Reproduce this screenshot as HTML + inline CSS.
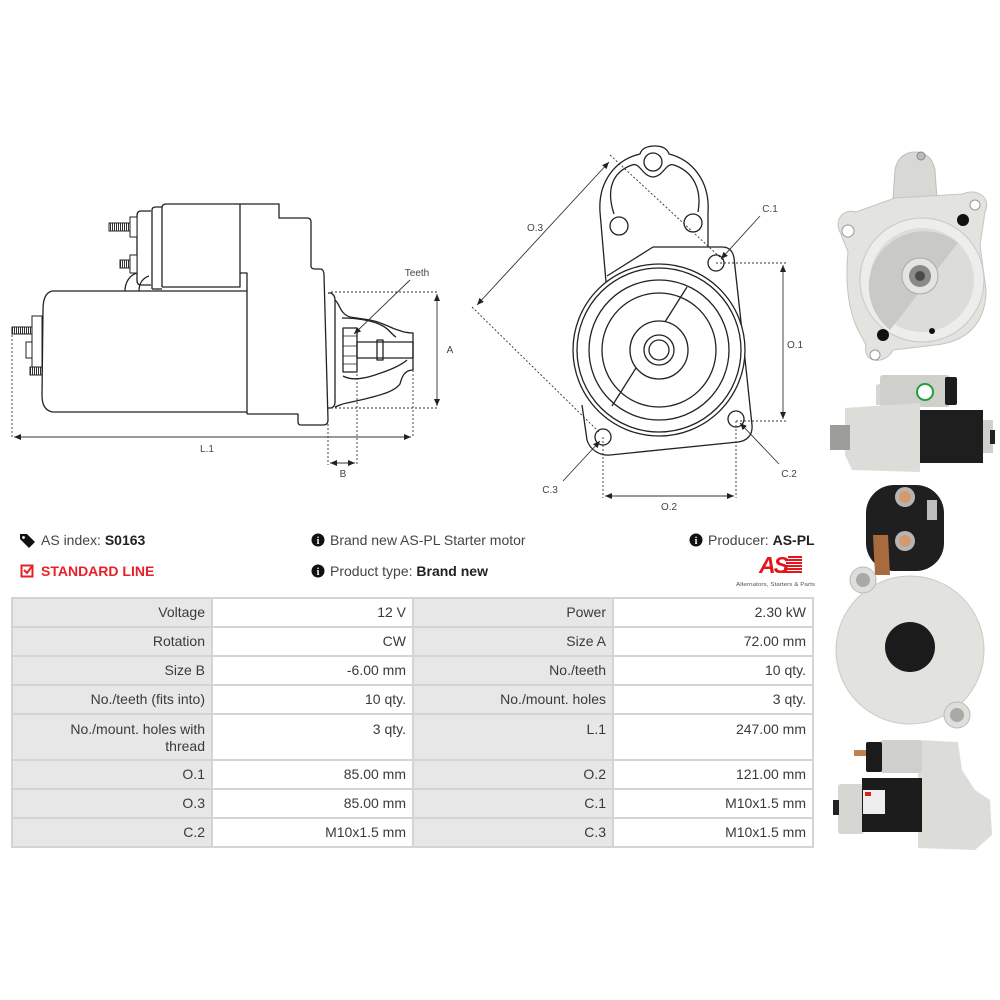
<!DOCTYPE html>
<html><head><meta charset="utf-8">
<style>
html,body{margin:0;padding:0;background:#fff;}
body{width:1000px;height:1000px;position:relative;overflow:hidden;font-family:"Liberation Sans",sans-serif;}
svg{position:absolute;left:0;top:0;}
.t{position:absolute;font-size:14px;color:#444;white-space:nowrap;line-height:16px;}
.t b{color:#222;}
.tb{position:absolute;left:11px;top:597px;width:803px;height:251px;background:#d4d4d4;}
.c{position:absolute;box-sizing:border-box;font-size:14px;color:#3a3a3a;text-align:right;padding-right:6px;line-height:27px;white-space:nowrap;}
.g{background:#e7e7e7;}
.w{background:#fff;}
.tall{line-height:17px;padding-top:6px;}
</style></head><body>
<svg width="1000" height="1000" viewBox="0 0 1000 1000">
<defs>
<marker id="ar" markerUnits="userSpaceOnUse" markerWidth="7" markerHeight="6" refX="7" refY="3" orient="auto-start-reverse"><path d="M0,0 L7,3 L0,6 Z" fill="#222"/></marker>
<pattern id="th" width="2" height="4" patternUnits="userSpaceOnUse"><rect width="2" height="4" fill="#fff"/><rect width="1" height="4" fill="#333"/></pattern>
</defs>

<!-- LEFT SIDE DRAWING -->
<g fill="none" stroke="#222" stroke-width="1.3" stroke-linejoin="round">
  <path d="M166,204 L279,204 L279,218 L307,218 Q311,218 311,222 L311,266 Q311,269 315,269 L321,269 Q324,270 324,275 L328,420 Q328,425 323,425 L301,425 Q298,425 298,422 L298,414 L247,414"/>
  <path d="M162,287 L162,208 Q162,204 166,204"/>
  <path d="M162,287 L240,287 L240,204"/>
  <path d="M240,273 L247,273 L247,414"/>
  <path d="M152,289 L152,210 Q152,207 156,207 L162,207"/>
  <path d="M152,289 L162,289"/>
  <path d="M151,285 L141,285 Q137,285 137,280 L137,216 Q137,211 141,211 L151,211"/>
  <path d="M125,291 C125,282 130,275 137,273"/>
  <path d="M139,291 C139,283 143,278 149,276"/>
  <path d="M52,291 L247,291"/>
  <path d="M52,412 L247,412"/>
  <path d="M52,291 C45,293 43,300 43,310 L42,395 C42,405 45,410 52,412"/>
  <path d="M328,293 L331,293 Q335,295 335,300 L335,402 Q335,407 331,408 L328,408"/>
  <path d="M335,300 C340,304 340,314 350,317 L370,320 C385,323 390,328 398,330 L404,332 C406,332 407,333 413,333 L413,370 C405,370 402,376 400,384 C394,392 380,395 365,399 L347,403 C341,404 338,406 335,407"/>
  <path d="M342,318 C355,318 372,320 383,326 C390,330 392,335 396,337"/>
  <path d="M343,376 C350,380 360,380 375,375 C390,370 400,366 407,360"/>
  <rect x="343" y="328" width="14" height="44"/>
  <path d="M343,336 L357,336 M343,346 L357,346 M343,356 L357,356 M343,364 L357,364" stroke-width="0.8"/>
  <rect x="357" y="342" width="56" height="16"/>
  <rect x="377" y="340" width="6" height="20"/>
</g>
<g stroke="#222" stroke-width="1">
  <rect x="109" y="223" width="21" height="8" fill="url(#th)"/>
  <rect x="130" y="217" width="7" height="20" fill="#fff"/>
  <rect x="120" y="260" width="10" height="8" fill="url(#th)"/>
  <rect x="130" y="255" width="7" height="18" fill="#fff"/>
  <rect x="32" y="316" width="10" height="54" fill="#fff"/>
  <rect x="12" y="327" width="20" height="7" fill="url(#th)"/>
  <rect x="26" y="342" width="6" height="16" fill="#fff"/>
  <rect x="30" y="367" width="12" height="8" fill="url(#th)"/>
</g>
<g fill="none" stroke="#333" stroke-width="0.9">
  <path d="M331,292 L439,292 M331,408 L439,408 M12,335 L12,438 M413,370 L413,438 M328,408 L328,465 M357,370 L357,465" stroke-dasharray="2,2"/>
  <path d="M437,294 L437,406" marker-start="url(#ar)" marker-end="url(#ar)"/>
  <path d="M14,437 L411,437" marker-start="url(#ar)" marker-end="url(#ar)"/>
  <path d="M330,463 L355,463" marker-start="url(#ar)" marker-end="url(#ar)"/>
  <path d="M410,280 L354,334" marker-end="url(#ar)"/>
</g>
<g font-family="Liberation Sans, sans-serif" font-size="10" fill="#444" text-anchor="middle">
  <text x="417" y="276">Teeth</text>
  <text x="450" y="353">A</text>
  <text x="207" y="452">L.1</text>
  <text x="343" y="477">B</text>
</g>

<!-- FRONT VIEW DRAWING -->
<g fill="none" stroke="#222" stroke-width="1.3" stroke-linejoin="round">
  <path d="M606,282 L600,212 C598,182 615,160 640,154 C642,147 649,146 655,146 C662,146 667,148 669,154 C693,160 710,182 708,212 L708,247"/>
  <path d="M614,214 C606,190 612,172 632,165 C640,162 642,176 653,177 C664,176 666,162 674,165 C694,172 702,190 698,212"/>
  <circle cx="653" cy="162" r="9"/>
  <circle cx="619" cy="226" r="9"/>
  <circle cx="693" cy="223" r="9"/>
  <path d="M607,276 L653,247 L722,247 C730,247 733,252 734,258 L743,340 L752,425 C753,436 746,441 738,442 L610,455 C600,456 590,450 587,440 L582,405"/>
  <circle cx="659" cy="350" r="86" fill="#fff"/>
  <circle cx="659" cy="350" r="82"/>
  <circle cx="659" cy="350" r="70"/>
  <circle cx="659" cy="350" r="57"/>
  <path d="M687,287 L612,406"/>
  <circle cx="659" cy="350" r="29" fill="#fff"/>
  <circle cx="659" cy="350" r="15"/>
  <circle cx="659" cy="350" r="10"/>
  <circle cx="716" cy="263" r="8" fill="#fff"/>
  <circle cx="736" cy="419" r="8" fill="#fff"/>
  <circle cx="603" cy="437" r="8" fill="#fff"/>
</g>
<g fill="none" stroke="#333" stroke-width="0.9">
  <path d="M716,263 L786,263 M736,421 L786,421 M603,437 L603,498 M736,421 L736,498 M610,155 L723,260 M472,307 L600,433" stroke-dasharray="2,2"/>
  <path d="M783,265 L783,419" marker-start="url(#ar)" marker-end="url(#ar)"/>
  <path d="M605,496 L734,496" marker-start="url(#ar)" marker-end="url(#ar)"/>
  <path d="M477,305 L609,162" marker-start="url(#ar)" marker-end="url(#ar)"/>
  <path d="M760,216 L721,259" marker-end="url(#ar)"/>
  <path d="M779,464 L740,423" marker-end="url(#ar)"/>
  <path d="M563,481 L600,441" marker-end="url(#ar)"/>
</g>
<g font-family="Liberation Sans, sans-serif" font-size="10" fill="#444" text-anchor="middle">
  <text x="535" y="231">O.3</text>
  <text x="770" y="212">C.1</text>
  <text x="795" y="348">O.1</text>
  <text x="789" y="477">C.2</text>
  <text x="550" y="493">C.3</text>
  <text x="669" y="510">O.2</text>
</g>

<!-- PHOTO 1: front -->
<g>
  <path d="M893,200 L895,170 C897,158 905,152 915,152 C925,152 933,158 935,170 L937,200 Z" fill="#d8d8d5" stroke="#bdbdb9"/>
  <circle cx="921" cy="156" r="4" fill="#bbb" stroke="#888"/>
  <path d="M840,232 C834,220 843,208 856,212 L895,198 L963,194 C975,188 992,196 985,212 L980,245 L986,290 C986,325 965,342 935,345 L893,350 C886,365 862,364 866,345 L858,330 C848,310 845,280 848,252 Z" fill="#e3e3e0" stroke="#c4c4c0"/>
  <circle cx="922" cy="280" r="62" fill="#ededeb" stroke="#c8c8c4"/>
  <circle cx="922" cy="280" r="52" fill="#dcdcd9"/>
  <path d="M958,243 L890,330 A52,52 0 0 1 958,243 Z" fill="#c9c9c6"/>
  <circle cx="920" cy="276" r="18" fill="#e4e4e2" stroke="#aaa"/>
  <circle cx="920" cy="276" r="11" fill="#8a8a88"/>
  <circle cx="920" cy="276" r="5" fill="#4a4a4a"/>
  <circle cx="848" cy="231" r="6" fill="#fff" stroke="#999"/>
  <circle cx="975" cy="205" r="5" fill="#fff" stroke="#999"/>
  <circle cx="875" cy="355" r="5" fill="#fff" stroke="#999"/>
  <circle cx="963" cy="220" r="6" fill="#111"/>
  <circle cx="883" cy="335" r="6" fill="#111"/>
  <circle cx="932" cy="331" r="3" fill="#111"/>
</g>
<!-- PHOTO 2: side -->
<g>
  <path d="M876,385 L900,378 L905,405 L876,405 Z" fill="#d6d6d3"/>
  <rect x="880" y="375" width="70" height="32" rx="3" fill="#cfcfcc"/>
  <rect x="945" y="377" width="12" height="28" rx="2" fill="#1c1c1c"/>
  <circle cx="925" cy="392" r="8" fill="#fff" stroke="#2a9a3a" stroke-width="2"/>
  <path d="M845,408 L920,403 L920,472 L852,470 L845,455 Z" fill="#dcdcd9"/>
  <rect x="830" y="425" width="20" height="25" fill="#9d9d9a"/>
  <rect x="920" y="410" width="63" height="53" fill="#1e1e1e"/>
  <rect x="983" y="420" width="10" height="33" fill="#cfcfcc"/>
  <rect x="990" y="430" width="5" height="14" fill="#222"/>
</g>
<!-- PHOTO 3: rear -->
<g>
  <rect x="866" y="485" width="78" height="86" rx="28" fill="#1f1f1f"/>
  <path d="M873,535 L888,535 L890,575 L875,575 Z" fill="#a86b3e"/>
  <circle cx="905" cy="497" r="10" fill="#b5b5b5"/>
  <circle cx="905" cy="497" r="6" fill="#d29a6e"/>
  <circle cx="905" cy="541" r="10" fill="#b5b5b5"/>
  <circle cx="905" cy="541" r="6" fill="#d29a6e"/>
  <rect x="927" y="500" width="10" height="20" fill="#bdbdbd"/>
  <circle cx="910" cy="650" r="74" fill="#e2e2df" stroke="#c9c9c5"/>
  <circle cx="863" cy="580" r="13" fill="#dededb" stroke="#bbb"/>
  <circle cx="863" cy="580" r="7" fill="#a9a9a6"/>
  <circle cx="957" cy="715" r="13" fill="#dededb" stroke="#bbb"/>
  <circle cx="957" cy="715" r="7" fill="#a9a9a6"/>
  <circle cx="910" cy="647" r="25" fill="#1b1b1b"/>
</g>
<!-- PHOTO 4: side -->
<g>
  <path d="M918,740 L958,742 L962,770 L975,790 L990,800 L992,835 L975,850 L918,848 Z" fill="#dcdcd9"/>
  <rect x="880" y="740" width="42" height="33" rx="3" fill="#cfcfcc"/>
  <rect x="866" y="742" width="16" height="30" rx="2" fill="#1b1b1b"/>
  <rect x="854" y="750" width="12" height="6" fill="#c08050"/>
  <rect x="838" y="784" width="26" height="50" rx="3" fill="#d6d6d3"/>
  <rect x="833" y="800" width="6" height="15" fill="#222"/>
  <rect x="862" y="778" width="60" height="54" fill="#1c1c1c"/>
  <rect x="863" y="790" width="22" height="24" fill="#eee"/>
  <rect x="865" y="792" width="6" height="4" fill="#d22"/>
</g>
</svg>

<!-- INFO ROW -->
<svg width="1000" height="1000" style="pointer-events:none">
  <path d="M20,534 L27,534 L35,542 L29,548 L20,539 Z" fill="#111"/>
  <circle cx="23.5" cy="537.5" r="1.4" fill="#fff"/>
  <rect x="21.5" y="565.5" width="11" height="11" fill="none" stroke="#e8202a" stroke-width="2"/>
  <path d="M24,570 L27,573 L33,565" fill="none" stroke="#e8202a" stroke-width="2"/>
  <circle cx="318" cy="540" r="6.5" fill="#111"/>
  <circle cx="318" cy="571" r="6.5" fill="#111"/>
  <circle cx="696" cy="540" r="6.5" fill="#111"/>
  <g fill="#fff" font-family="Liberation Serif, serif" font-weight="bold" font-size="10" text-anchor="middle">
    <text x="318" y="544">i</text><text x="318" y="575">i</text><text x="696" y="544">i</text>
  </g>
  <g fill="#e3161b">
    <rect x="788" y="556" width="14" height="2"/><rect x="787" y="559" width="15" height="2"/>
    <rect x="786" y="562" width="16" height="2"/><rect x="785" y="565" width="17" height="2"/>
    <rect x="784" y="568" width="18" height="2"/><rect x="783" y="571" width="19" height="2"/>
  </g>
  <text x="759" y="573" font-family="Liberation Sans, sans-serif" font-weight="bold" font-style="italic" font-size="23" fill="#e3161b" letter-spacing="-2">AS</text>
  <text x="736" y="586" font-family="Liberation Sans, sans-serif" font-size="5.5" fill="#555" textLength="79" lengthAdjust="spacingAndGlyphs">Alternators, Starters &amp; Parts</text>
</svg>
<div class="t" style="left:41px;top:532px;">AS index: <b>S0163</b></div>
<div class="t" style="left:41px;top:563px;color:#e8202a;font-weight:bold;">STANDARD LINE</div>
<div class="t" style="left:330px;top:532px;">Brand new AS-PL Starter motor</div>
<div class="t" style="left:330px;top:563px;">Product type: <b>Brand new</b></div>
<div class="t" style="left:708px;top:532px;">Producer: <b>AS-PL</b></div>

<!-- TABLE -->
<div class="tb"></div>
<div class="c g" style="left:13px;top:599px;width:198px;height:27px;">Voltage</div>
<div class="c w" style="left:213px;top:599px;width:199px;height:27px;">12 V</div>
<div class="c g" style="left:414px;top:599px;width:198px;height:27px;">Power</div>
<div class="c w" style="left:614px;top:599px;width:198px;height:27px;">2.30 kW</div>

<div class="c g" style="left:13px;top:628px;width:198px;height:27px;">Rotation</div>
<div class="c w" style="left:213px;top:628px;width:199px;height:27px;">CW</div>
<div class="c g" style="left:414px;top:628px;width:198px;height:27px;">Size A</div>
<div class="c w" style="left:614px;top:628px;width:198px;height:27px;">72.00 mm</div>

<div class="c g" style="left:13px;top:657px;width:198px;height:27px;">Size B</div>
<div class="c w" style="left:213px;top:657px;width:199px;height:27px;">-6.00 mm</div>
<div class="c g" style="left:414px;top:657px;width:198px;height:27px;">No./teeth</div>
<div class="c w" style="left:614px;top:657px;width:198px;height:27px;">10 qty.</div>

<div class="c g" style="left:13px;top:686px;width:198px;height:27px;">No./teeth (fits into)</div>
<div class="c w" style="left:213px;top:686px;width:199px;height:27px;">10 qty.</div>
<div class="c g" style="left:414px;top:686px;width:198px;height:27px;">No./mount. holes</div>
<div class="c w" style="left:614px;top:686px;width:198px;height:27px;">3 qty.</div>

<div class="c g tall" style="left:13px;top:715px;width:198px;height:44px;">No./mount. holes with<br>thread</div>
<div class="c w tall" style="left:213px;top:715px;width:199px;height:44px;">3 qty.</div>
<div class="c g tall" style="left:414px;top:715px;width:198px;height:44px;">L.1</div>
<div class="c w tall" style="left:614px;top:715px;width:198px;height:44px;">247.00 mm</div>

<div class="c g" style="left:13px;top:761px;width:198px;height:27px;">O.1</div>
<div class="c w" style="left:213px;top:761px;width:199px;height:27px;">85.00 mm</div>
<div class="c g" style="left:414px;top:761px;width:198px;height:27px;">O.2</div>
<div class="c w" style="left:614px;top:761px;width:198px;height:27px;">121.00 mm</div>

<div class="c g" style="left:13px;top:790px;width:198px;height:27px;">O.3</div>
<div class="c w" style="left:213px;top:790px;width:199px;height:27px;">85.00 mm</div>
<div class="c g" style="left:414px;top:790px;width:198px;height:27px;">C.1</div>
<div class="c w" style="left:614px;top:790px;width:198px;height:27px;">M10x1.5 mm</div>

<div class="c g" style="left:13px;top:819px;width:198px;height:27px;">C.2</div>
<div class="c w" style="left:213px;top:819px;width:199px;height:27px;">M10x1.5 mm</div>
<div class="c g" style="left:414px;top:819px;width:198px;height:27px;">C.3</div>
<div class="c w" style="left:614px;top:819px;width:198px;height:27px;">M10x1.5 mm</div>
</body></html>
